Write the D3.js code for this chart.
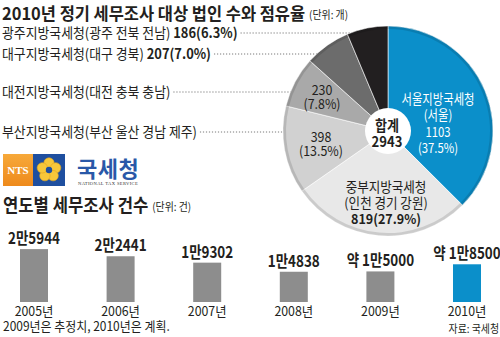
<!DOCTYPE html>
<html><head><meta charset="utf-8">
<script src="https://cdn.jsdelivr.net/npm/d3@7"></script>
<style>
html,body{margin:0;padding:0;background:#fff;}
svg{display:block;font-family:"Noto Sans CJK KR","Noto Sans",sans-serif;}
</style>
</head><body>
<svg id="chart" width="500" height="337"></svg>
<script>
// Regional tax offices: share of corporations subject to the 2010 regular audit
const regions = ["서울지방국세청", "중부지방국세청", "부산지방국세청", "대전지방국세청", "대구지방국세청", "광주지방국세청"];
const areas = ["서울", "인천 경기 강원", "부산 울산 경남 제주", "대전 충북 충남", "대구 경북", "광주 전북 전남"];
const counts = [1103, 819, 398, 230, 207, 186];
const shares = ["37.5%", "27.9%", "13.5%", "7.8%", "7.0%", "6.3%"];
const totalCount = 2943;
const sliceColors = ["#0b8fca", "#e8e8e8", "#d1d1d1", "#a9a9a9", "#6c6c6c", "#221f20"];

// Audits per year
const years = ["2005년", "2006년", "2007년", "2008년", "2009년", "2010년"];
const audits = [25944, 22441, 19302, 14838, 15000, 18500];
const auditLabels = ["2만5944", "2만2441", "1만9302", "1만4838", "약 1만5000", "약 1만8500"];
const barColors = ["#8d8d8d", "#8d8d8d", "#8d8d8d", "#8d8d8d", "#8d8d8d", "#0b8fca"];

const svg = d3.select("#chart");

// text helper: horizontally condensed glyphs like the print typeface
function txt(g, x, y, str, o = {}) {
  return g.append("text")
    .attr("transform", `translate(${x},${y}) scale(${o.sx || 1},1)`)
    .attr("text-anchor", o.anchor || "start")
    .attr("font-size", o.size || 13)
    .attr("font-weight", o.weight || 400)
    .attr("fill", o.fill || "#231f20")
    .text(str);
}
// stacked caption: one text element, one tspan per line
function block(g, x, y, lines, o = {}) {
  const t = g.append("text")
    .attr("transform", `translate(${x},${y}) scale(${o.sx || 1},1)`)
    .attr("text-anchor", "middle")
    .attr("font-size", o.size || 13.5)
    .attr("fill", o.fill || "#231f20");
  lines.forEach((l, k) => {
    t.append("tspan").attr("x", 0).attr("dy", k ? o.lh || 16 : 0)
      .attr("font-weight", l.bold ? 700 : 400).text(l.s);
  });
  return t;
}
function endX(t, x, sx) { return x + t.node().getBBox().width * sx; }

// ---- headline ----
const h1 = txt(svg, 2, 20, "2010년 정기 세무조사 대상 법인 수와 점유율", {size: 17.5, weight: 700, sx: 0.94});
txt(svg, endX(h1, 2, 0.94) + 4, 19, "(단위: 개)", {size: 11, sx: 0.9});

// ---- pie ----
const cx = 388, cy = 131, R = 105, hole = 23;
const pie = d3.pie().sort(null).value(d => d)(counts);
const arc = d3.arc().innerRadius(0).outerRadius(R);
const rim = d3.arc().innerRadius(R - 3).outerRadius(R);

// leader lines from the left labels into their slices
const leftRows = [
  {i: 5, y: 38, value: true},
  {i: 4, y: 59, value: true},
  {i: 3, y: 97, value: false},
  {i: 2, y: 137, value: false}
];
const lead = svg.append("g");
const labs = svg.append("g");
leftRows.forEach(r => {
  const t = labs.append("text")
    .attr("transform", `translate(2,${r.y}) scale(0.92,1)`)
    .attr("font-size", 14)
    .attr("fill", "#231f20");
  t.append("tspan").text(`${regions[r.i]}(${areas[r.i]})`);
  if (r.value) {
    t.append("tspan").attr("font-weight", 700).text(` ${counts[r.i]}(${shares[r.i]})`);
  }
  const x0 = endX(t, 2, 0.92) + 3;
  lead.append("line")
    .attr("x1", x0).attr("x2", cx)
    .attr("y1", r.y - 5).attr("y2", r.y - 5)
    .attr("stroke", "#7a7a7a").attr("stroke-width", 1)
    .attr("stroke-dasharray", "1.2,1.8");
});

const pg = svg.append("g").attr("transform", `translate(${cx},${cy})`);
pg.selectAll("path.slice").data(pie).join("path")
  .attr("class", "slice")
  .attr("d", arc)
  .attr("fill", (d, i) => sliceColors[i])
  .attr("stroke", "#ffffff").attr("stroke-width", 0.6);
pg.selectAll("path.rim").data(pie).join("path")
  .attr("class", "rim")
  .attr("d", rim)
  .attr("fill", "#000").attr("fill-opacity", 0.12);
pg.append("circle").attr("r", hole).attr("fill", "#fff");

// slice captions
const g = svg.append("g");
block(g, 438, 104, [
  {s: regions[0]}, {s: `(${areas[0]})`}, {s: `${counts[0]}`}, {s: `(${shares[0]})`}
], {sx: 0.84, fill: "#fff", lh: 16.3});
block(g, 386, 192, [
  {s: regions[1]}, {s: `(${areas[1]})`}, {s: `${counts[1]}(${shares[1]})`, bold: true}
], {sx: 0.93, lh: 16});
block(g, 322, 95, [{s: `${counts[3]}`}, {s: `(${shares[3]})`}], {sx: 0.92, lh: 14});
block(g, 321, 142, [{s: `${counts[2]}`}, {s: `(${shares[2]})`}], {sx: 0.92, lh: 14});
block(g, 387, 131, [{s: "합계", bold: true}, {s: `${totalCount}`, bold: true}], {sx: 0.9, size: 14.5, lh: 16});

// ---- NTS emblem ----
const logo = svg.append("g");
const og = svg.append("defs").append("linearGradient").attr("id", "ntsOrange")
  .attr("x1", 0).attr("x2", 0).attr("y1", 0).attr("y2", 1);
og.append("stop").attr("offset", 0).attr("stop-color", "#f7a93a");
og.append("stop").attr("offset", 1).attr("stop-color", "#ee8a1c");
logo.append("rect").attr("x", 3).attr("y", 154).attr("width", 30).attr("height", 32).attr("fill", "url(#ntsOrange)");
logo.append("rect").attr("x", 33).attr("y", 154).attr("width", 32).attr("height", 32).attr("fill", "#1f4f9f");
logo.append("text").attr("x", 18).attr("y", 174).attr("text-anchor", "middle")
  .attr("font-family", "Liberation Serif, serif").attr("font-weight", 700)
  .attr("font-size", 11).attr("fill", "#fff").text("NTS");
const fl = logo.append("g").attr("transform", "translate(49,170)");
d3.range(5).forEach(k => {
  const a = -Math.PI / 2 + k * 2 * Math.PI / 5;
  fl.append("circle").attr("cx", 7 * Math.cos(a)).attr("cy", 7 * Math.sin(a)).attr("r", 5.2)
    .attr("fill", "#f7c73a").attr("stroke", "#e2a51e").attr("stroke-width", 0.6);
});
fl.append("circle").attr("r", 3.2).attr("fill", "#1f4f9f");
const wm = logo.append("text").attr("x", 77).attr("y", 177);
wm.append("tspan").attr("font-size", 22).attr("font-weight", 700)
  .attr("letter-spacing", 0.5).attr("fill", "#2958a8").text("국세청");
wm.append("tspan").attr("x", 78).attr("dy", 8).attr("font-size", 4.6)
  .attr("font-family", "Liberation Serif, serif").attr("letter-spacing", 0.35)
  .attr("fill", "#333").text("NATIONAL TAX SERVICE");

// ---- bar section ----
const h2 = txt(svg, 3, 212, "연도별 세무조사 건수", {size: 18.5, weight: 700, sx: 0.9});
txt(svg, endX(h2, 3, 0.9) + 4, 211, "(단위: 건)", {size: 11, sx: 0.9});

const x = d3.scalePoint().domain(years).range([34, 467]);
const y = d3.scaleLinear().domain([0, 26000]).range([302, 249]);
const bw = 28;
const bars = svg.append("g");
bars.selectAll("rect").data(audits).join("rect")
  .attr("x", (d, i) => x(years[i]) - bw / 2)
  .attr("y", d => y(d))
  .attr("width", bw)
  .attr("height", d => y(0) - y(d))
  .attr("fill", (d, i) => barColors[i]);
audits.forEach((d, i) => {
  txt(bars, x(years[i]), y(d) - 5, auditLabels[i], {size: 16, weight: 700, sx: 0.84, anchor: "middle"});
  txt(bars, x(years[i]), 316, years[i], {size: 13, sx: 0.95, anchor: "middle"});
});

txt(svg, 3, 331, "2009년은 추정치, 2010년은 계획.", {size: 13, sx: 0.92});
txt(svg, 499, 333, "자료: 국세청", {size: 11, sx: 0.9, anchor: "end"});
</script>
</body></html>
